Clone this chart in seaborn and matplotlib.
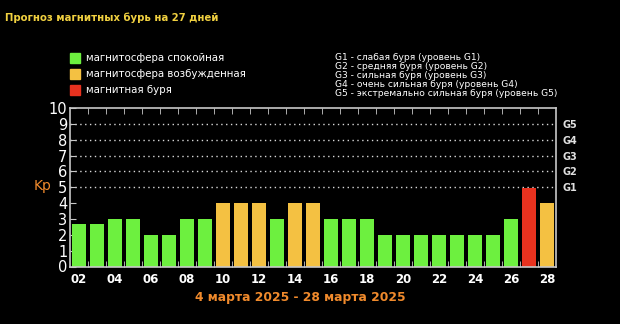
import matplotlib
matplotlib.use("Agg")
import matplotlib.pyplot as plt
import matplotlib.patches as mpatches
import seaborn as sns
import pandas as pd

days = ["02", "03", "04", "05", "06", "07", "08", "09", "10", "11", "12", "13", "14", "15",
        "16", "17", "18", "19", "20", "21", "22", "23", "24", "25", "26", "27", "28"]
kp = [2.67, 2.67, 3, 3, 2, 2, 3, 3, 4, 4, 4, 3, 4, 4,
      3, 3, 3, 2, 2, 2, 2, 2, 2, 2, 3, 4.93, 4]
state = ["calm", "calm", "calm", "calm", "calm", "calm", "calm", "calm", "active", "active",
         "active", "calm", "active", "active", "calm", "calm", "calm", "calm", "calm", "calm",
         "calm", "calm", "calm", "calm", "calm", "storm", "active"]
legend_labels = ["магнитосфера спокойная", "магнитосфера возбужденная", "магнитная буря"]
g_labels = ["G1 - слабая буря (уровень G1)",
            "G2 - средняя буря (уровень G2)",
            "G3 - сильная буря (уровень G3)",
            "G4 - очень сильная буря (уровень G4)",
            "G5 - экстремально сильная буря (уровень G5)"]
g_ticks = ["G1", "G2", "G3", "G4", "G5"]
title = "Прогноз магнитных бурь на 27 дней"
period = "4 марта 2025 - 28 марта 2025"

colors = {"calm": "#6df03f", "active": "#f4c142", "storm": "#e8321f"}

df = pd.DataFrame({"day": days, "kp": kp, "state": state})

sns.set_style("dark")
plt.rcParams["font.family"] = ["DejaVu Sans"]

fig = plt.figure(figsize=(6.2, 3.24), dpi=100, facecolor="black")
ax = fig.add_axes([70 / 620, 1 - 266.5 / 324, 486 / 620, (266.5 - 108) / 324])
ax.set_facecolor("black")

for lvl in range(5, 10):
    ax.axhline(lvl, color="#d8d8d8", lw=1.0, ls=(0, (1, 2.5)), zorder=0)

sns.barplot(data=df, x="day", y="kp", hue="state", palette=colors, dodge=False,
            width=0.8, saturation=1, legend=False, ax=ax, zorder=2, linewidth=0)

ax.set_xlim(-0.5, len(days) - 0.5)
ax.set_ylim(0, 10)
ax.set_xlabel("")
ax.set_ylabel("")
ax.grid(False)

for s in ax.spines.values():
    s.set_color("#c8c8c8")
    s.set_linewidth(1.2)
    s.set_visible(True)

ax.set_yticks(range(0, 11))
ax.set_yticklabels([str(i) for i in range(0, 11)], color="white", fontsize=10.5)
ax.tick_params(axis="y", direction="in", length=4, color="#c8c8c8", pad=2,
               left=True, right=True)

ax.set_xticks(range(0, len(days), 2))
ax.set_xticklabels(days[::2], color="white", fontsize=8.5, fontweight="bold")
ax.tick_params(axis="x", which="major", length=0, pad=5)
ax.set_xticks([i + 0.5 for i in range(len(days) - 1)], minor=True)
ax.tick_params(axis="x", which="minor", direction="in", length=4, color="#c8c8c8",
               top=True, bottom=True)

ax2 = ax.twinx()
ax2.set_ylim(0, 10)
ax2.set_yticks(range(5, 10))
ax2.set_yticklabels(g_ticks, color="#e0e0e0", fontsize=7, fontweight="bold")
ax2.tick_params(axis="y", length=0, pad=5)
for s in ax2.spines.values():
    s.set_visible(False)
ax2.grid(False)

fig.text(34 / 620, 1 - 186 / 324, "Kp", color="#f08a2c", fontsize=10, va="center")

fig.text(5 / 620, 1 - 18 / 324, title, color="#f0d040", fontsize=7.3,
         fontweight="bold", va="center")

leg_y = [58, 74, 90]
for y, lab, key in zip(leg_y, legend_labels, ["calm", "active", "storm"]):
    fig.patches.append(mpatches.Rectangle((70 / 620, 1 - (y + 5) / 324), 10 / 620, 10 / 324,
                                          transform=fig.transFigure, color=colors[key]))
    fig.text(86 / 620, 1 - y / 324, lab, color="white", fontsize=7.4, va="center")

for i, lab in enumerate(g_labels):
    fig.text(335 / 620, 1 - (57.5 + i * 9) / 324, lab, color="white", fontsize=6.55,
             va="center")

fig.text(300 / 620, 1 - 298 / 324, period, color="#f08a2c", fontsize=8.8,
         fontweight="bold", ha="center", va="center")

fig.savefig("out.png", dpi=100, facecolor="black")
